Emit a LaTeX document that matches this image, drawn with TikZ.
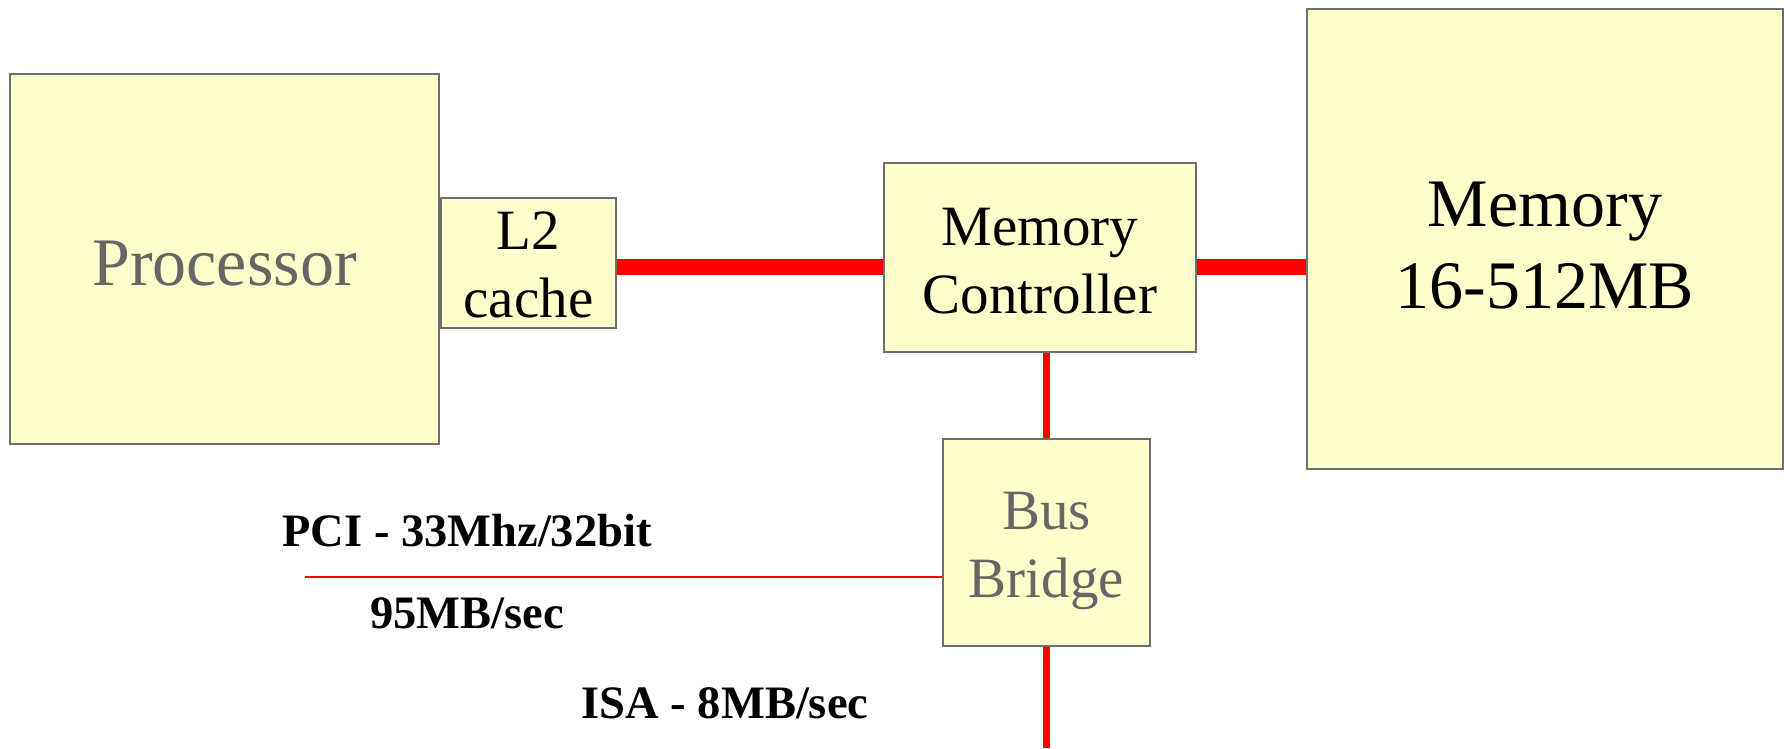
\documentclass[tikz,border=0pt]{standalone}
\usepackage{fontspec}
\setmainfont{Liberation Serif}
\usetikzlibrary{backgrounds}
\begin{document}
\begin{tikzpicture}[x=1pt,y=-1pt,
  unit/.style={draw=boxline, fill=boxfill, line width=1.6pt, rectangle,
    inner sep=0pt, outer sep=0pt},
  unittext/.style={align=center, inner sep=0pt},
  bigtext/.style={unittext, font=\fontsize{68}{82}\selectfont},
  midtext/.style={unittext, font=\fontsize{57}{68}\selectfont},
  greytext/.style={text=labelgrey},
  widebus/.style={draw=busred, line width=16.5pt},
  sidebus/.style={draw=busred, line width=7pt},
  thinbus/.style={draw=busred, line width=2pt},
  buslabel/.style={font=\fontsize{46.5}{56}\selectfont\bfseries, anchor=base,
    inner sep=0pt}]
\definecolor{boxfill}{HTML}{FFFFCC}
\definecolor{boxline}{HTML}{6E6E6E}
\definecolor{labelgrey}{HTML}{666666}
\definecolor{busred}{HTML}{FF0000}
\useasboundingbox (0,0) rectangle (1784,748);

% level of the wide memory bus, start of the PCI line, bottom of the ISA line
\coordinate (buslevel) at (0,267);
\coordinate (pcistart) at (305,576.5);
\coordinate (isaend) at (0,748);

% boxes
\node[unit, minimum width=429pt, minimum height=370pt] (proc) at (224.5,259) {};
\node[unit, minimum width=175pt, minimum height=130pt] (l2) at (528.5,263) {};
\node[unit, minimum width=312pt, minimum height=189pt] (mc) at (1040,257.5) {};
\node[unit, minimum width=476pt, minimum height=460pt] (mem) at (1545,239) {};
\node[unit, minimum width=207pt, minimum height=207pt] (bb) at (1046.5,542.5) {};

% box texts
\node[bigtext, greytext, yshift=-5pt] (proctext) at (proc) {Processor};
\node[midtext, yshift=-2pt] (l2text) at (l2) {L2\\cache};
\node[midtext, yshift=-4pt] (mctext) at (mc) {Memory\\Controller};
\node[bigtext, yshift=-7pt] (memtext) at (mem) {Memory\\16-512MB};
\node[midtext, greytext, yshift=-8pt] (bbtext) at (bb) {Bus\\Bridge};

% buses, behind the boxes
\begin{scope}[on background layer]
  \fill[white] (0,0) rectangle (1784,748);
  \draw[widebus] (proc.east |- buslevel) -- (l2.west |- buslevel);
  \draw[widebus] (l2.east |- buslevel) -- (mc.west |- buslevel);
  \draw[widebus] (mc.east |- buslevel) -- (mem.west |- buslevel);
  \draw[sidebus] (bb.north) -- (bb.north |- mc.south);
  \draw[sidebus] (bb.south) -- (bb.south |- isaend);
  \draw[thinbus] (pcistart) -- (bb.west |- pcistart);
\end{scope}

% bus labels
\node[buslabel] (pcilabel) at (467,546) {PCI - 33Mhz/32bit};
\node[buslabel] (pcirate) at (467,628) {95MB/sec};
\node[buslabel] (isalabel) at (725,718) {ISA - 8MB/sec};
\end{tikzpicture}
\end{document}
